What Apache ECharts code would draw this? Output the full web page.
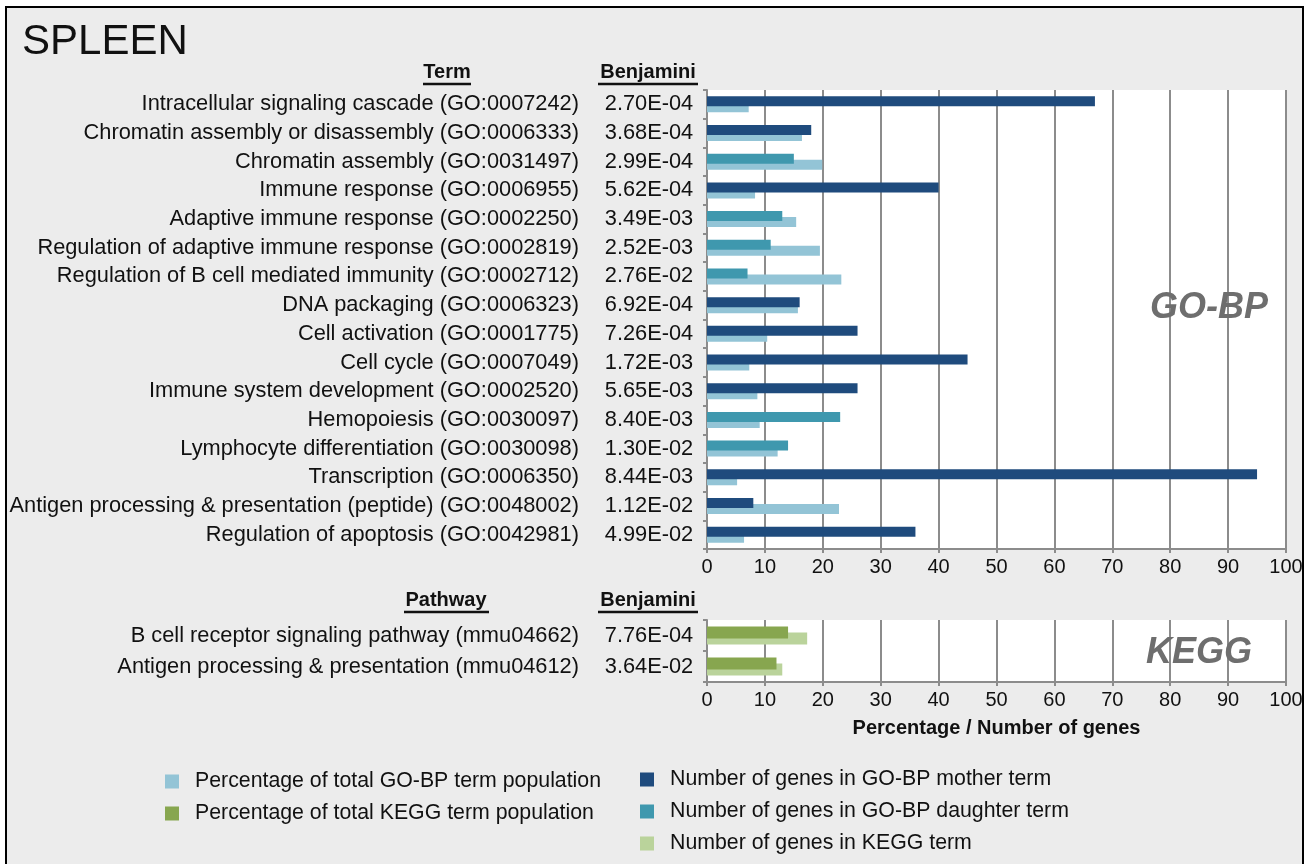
<!DOCTYPE html>
<html>
<head>
<meta charset="utf-8">
<script src="https://cdn.jsdelivr.net/npm/echarts@6/dist/echarts.min.js"></script>
<style>
html,body{margin:0;padding:0;background:#ffffff;}
#c{width:1308px;height:864px;}
</style>
</head>
<body>
<div id="c"></div>
<script>
// ---------- data ----------
const goTerms = [
  'Intracellular signaling cascade (GO:0007242)',
  'Chromatin assembly or disassembly (GO:0006333)',
  'Chromatin assembly (GO:0031497)',
  'Immune response (GO:0006955)',
  'Adaptive immune response (GO:0002250)',
  'Regulation of adaptive immune response (GO:0002819)',
  'Regulation of B cell mediated immunity (GO:0002712)',
  'DNA packaging (GO:0006323)',
  'Cell activation (GO:0001775)',
  'Cell cycle (GO:0007049)',
  'Immune system development (GO:0002520)',
  'Hemopoiesis (GO:0030097)',
  'Lymphocyte differentiation (GO:0030098)',
  'Transcription (GO:0006350)',
  'Antigen processing & presentation (peptide) (GO:0048002)',
  'Regulation of apoptosis (GO:0042981)'
];
const goBenjamini = ['2.70E-04','3.68E-04','2.99E-04','5.62E-04','3.49E-03','2.52E-03','2.76E-02','6.92E-04',
  '7.26E-04','1.72E-03','5.65E-03','8.40E-03','1.30E-02','8.44E-03','1.12E-02','4.99E-02'];
const goMother   = [67, 18, '-', 40, '-', '-', '-', 16, 26, 45, 26, '-', '-', 95, 8, 36];
const goDaughter = ['-', '-', 15, '-', 13, 11, 7, '-', '-', '-', '-', 23, 14, '-', '-', '-'];
const goPercent  = [7.2, 16.4, 19.9, 8.3, 15.4, 19.5, 23.2, 15.7, 10.4, 7.3, 8.7, 9.1, 12.2, 5.2, 22.8, 6.4];

const keggTerms = ['B cell receptor signaling pathway (mmu04662)', 'Antigen processing & presentation (mmu04612)'];
const keggBenjamini = ['7.76E-04', '3.64E-02'];
const keggPercent = [14, 12];
const keggGenes = [17.3, 13.0];

const xTicks = {min: 0, max: 100, interval: 10};

// ---------- style ----------
const FONT = "'Liberation Sans', Arial, Helvetica, sans-serif";
const C_MOTHER = '#1f4b7d', C_DAUGHTER = '#3f98ae', C_PCT = '#93c4d6';
const C_KPCT = '#87a64f', C_KGENES = '#bad39b';
const GRID_GRAY = '#8c8c8c';
const LBL = 21.8;

function labelFormatter(terms, benj) {
  return function (value, index) {
    return '{t|' + value + '}{s| }{b|' + benj[index] + '}';
  };
}
const labelRich = {
  t: {fontSize: LBL, fontFamily: FONT, color: '#111', align: 'right'},
  s: {width: 19, fontSize: LBL},
  b: {fontSize: LBL, fontFamily: FONT, color: '#111', width: 102, align: 'left'}
};

function xAxisCfg(gridIndex, extra) {
  return Object.assign({
    type: 'value', gridIndex: gridIndex,
    min: xTicks.min, max: xTicks.max, interval: xTicks.interval,
    axisLine: {show: true, lineStyle: {color: GRID_GRAY, width: 2}},
    axisTick: {show: true, length: 4, lineStyle: {color: GRID_GRAY, width: 2}},
    axisLabel: {fontSize: 20, fontFamily: FONT, color: '#111', margin: 8},
    splitLine: {show: true, lineStyle: {color: GRID_GRAY, width: 2}}
  }, extra || {});
}
function yAxisCfg(gridIndex, terms, benj) {
  return {
    type: 'category', gridIndex: gridIndex, inverse: true, data: terms,
    axisLine: {show: true, lineStyle: {color: GRID_GRAY, width: 2}},
    axisTick: {show: true, length: 4, alignWithLabel: false, lineStyle: {color: GRID_GRAY, width: 2}},
    axisLabel: {margin: 7, formatter: labelFormatter(terms, benj), rich: labelRich},
    splitLine: {show: false}
  };
}

const chart = echarts.init(document.getElementById('c'), null, {renderer: 'canvas'});
chart.setOption({
  animation: false,
  backgroundColor: '#ffffff',
  textStyle: {fontFamily: FONT},
  title: {
    text: 'SPLEEN', left: 22, top: 21, padding: 0,
    textStyle: {fontSize: 42, fontWeight: 'normal', color: '#111', fontFamily: FONT}
  },
  graphic: [
    {type: 'rect', z: -10, silent: true, shape: {x: 6, y: 7, width: 1297, height: 870},
     style: {fill: '#ececec', stroke: '#000', lineWidth: 2}},
    {type: 'text', x: 447, y: 72, style: {text: 'Term', font: 'bold 20px ' + FONT, fill: '#111', align: 'center', verticalAlign: 'middle'}},
    {type: 'line', shape: {x1: 423, y1: 84, x2: 471, y2: 84}, style: {stroke: '#111', lineWidth: 2.5}},
    {type: 'text', x: 648, y: 72, style: {text: 'Benjamini', font: 'bold 20px ' + FONT, fill: '#111', align: 'center', verticalAlign: 'middle'}},
    {type: 'line', shape: {x1: 598, y1: 84, x2: 698, y2: 84}, style: {stroke: '#111', lineWidth: 2.5}},
    {type: 'text', x: 446, y: 600, style: {text: 'Pathway', font: 'bold 20px ' + FONT, fill: '#111', align: 'center', verticalAlign: 'middle'}},
    {type: 'line', shape: {x1: 404, y1: 612, x2: 489, y2: 612}, style: {stroke: '#111', lineWidth: 2.5}},
    {type: 'text', x: 648, y: 600, style: {text: 'Benjamini', font: 'bold 20px ' + FONT, fill: '#111', align: 'center', verticalAlign: 'middle'}},
    {type: 'line', shape: {x1: 598, y1: 612, x2: 698, y2: 612}, style: {stroke: '#111', lineWidth: 2.5}},
    {type: 'text', x: 1268, y: 308, z: 1, style: {text: 'GO-BP', font: 'italic bold 36px ' + FONT, fill: '#6e6e6e', align: 'right', verticalAlign: 'middle'}},
    {type: 'text', x: 1252, y: 653, z: 1, style: {text: 'KEGG', font: 'italic bold 36px ' + FONT, fill: '#6e6e6e', align: 'right', verticalAlign: 'middle'}}
  ],
  grid: [
    {left: 707, top: 90, width: 579, height: 459, show: true, backgroundColor: '#ffffff', borderWidth: 0},
    {left: 707, top: 620, width: 579, height: 62, show: true, backgroundColor: '#ffffff', borderWidth: 0}
  ],
  xAxis: [
    xAxisCfg(0),
    xAxisCfg(1, {name: 'Percentage / Number of genes', nameLocation: 'middle', nameGap: 36,
      nameTextStyle: {fontSize: 20, fontWeight: 'bold', color: '#111', fontFamily: FONT}})
  ],
  yAxis: [
    yAxisCfg(0, goTerms, goBenjamini),
    yAxisCfg(1, keggTerms, keggBenjamini)
  ],
  legend: [
    {left: 160, top: 766, orient: 'vertical', itemGap: 11, itemWidth: 14, itemHeight: 14, icon: 'rect',
     selectedMode: false, itemStyle: {borderWidth: 0},
     textStyle: {fontSize: 21.3, fontFamily: FONT, color: '#111', padding: [0, 0, 0, 11]},
     data: ['Percentage of total GO-BP term population', 'Percentage of total KEGG term population']},
    {left: 635, top: 764, orient: 'vertical', itemGap: 11, itemWidth: 14, itemHeight: 14, icon: 'rect',
     selectedMode: false, itemStyle: {borderWidth: 0},
     textStyle: {fontSize: 21.3, fontFamily: FONT, color: '#111', padding: [0, 0, 0, 11]},
     data: ['Number of genes in GO-BP mother term', 'Number of genes in GO-BP daughter term', 'Number of genes in KEGG term']}
  ],
  series: [
    {name: 'Number of genes in GO-BP mother term', type: 'bar', xAxisIndex: 0, yAxisIndex: 0,
     stack: 'num', data: goMother, barWidth: 10, barGap: '-40%', z: 4,
     itemStyle: {color: C_MOTHER}},
    {name: 'Number of genes in GO-BP daughter term', type: 'bar', xAxisIndex: 0, yAxisIndex: 0,
     stack: 'num', data: goDaughter, barWidth: 10, barGap: '-40%', z: 4,
     itemStyle: {color: C_DAUGHTER}},
    {name: 'Percentage of total GO-BP term population', type: 'bar', xAxisIndex: 0, yAxisIndex: 0,
     data: goPercent, barWidth: 10, barGap: '-40%', z: 3,
     itemStyle: {color: C_PCT}},
    {name: 'Percentage of total KEGG term population', type: 'bar', xAxisIndex: 1, yAxisIndex: 1,
     data: keggPercent, barWidth: 12, barGap: '-50%', z: 4,
     itemStyle: {color: C_KPCT}},
    {name: 'Number of genes in KEGG term', type: 'bar', xAxisIndex: 1, yAxisIndex: 1,
     data: keggGenes, barWidth: 12, barGap: '-50%', z: 3,
     itemStyle: {color: C_KGENES}}
  ]
});
</script>
</body>
</html>
